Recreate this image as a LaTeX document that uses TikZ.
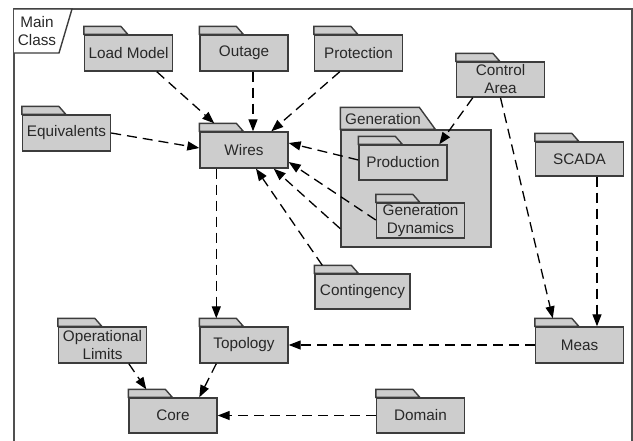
\documentclass[tikz,border=0pt]{standalone}
\usepackage{fontspec}
\setmainfont{Liberation Sans}
\usetikzlibrary{arrows.meta,calc}
\definecolor{pkgfill}{RGB}{205,205,205}
\definecolor{pkgline}{RGB}{60,60,60}
\definecolor{txt}{RGB}{40,40,40}
\tikzset{
  lblfont/.style={font=\fontsize{15.3}{18}\selectfont},
  pkg/.style={draw=pkgline, fill=pkgfill, line width=1.4pt, minimum width=88pt,
    minimum height=36pt, inner sep=0pt, text=txt, lblfont, align=center},
  tabshape/.style={draw=pkgline, fill=pkgfill, line width=1.4pt},
  dep/.style={draw=black, line width=1.3pt, dash pattern=on 10pt off 6pt,
    -{Triangle[length=12pt,width=9pt]}},
}
\newcommand{\pkgtab}[1]{\draw[tabshape] (#1.north west) -- ++(0,-8) -- ++(37,0) -- ++(7,8) -- cycle;}
\begin{document}
\begin{tikzpicture}[x=1pt,y=-1pt]
\useasboundingbox (0,0) rectangle (633,440);
% frame
\draw[draw=pkgline!90, line width=1.5pt] (14,445) -- (14,9) -- (632,9) -- (632,445);
\draw[draw=pkgline, fill=white, line width=1.4pt] (14,9) -- (72,9) -- (59,53) -- (14,53);
\node[text=txt, lblfont, align=center] (mainlbl) at (37,31) {Main\\Class};

% Generation package
\node[pkg, minimum width=150pt, minimum height=117pt] (gen) at (416,188.5) {};
\draw[tabshape] (gen.north west) -- ++(0,-22) -- ++(79,0) -- ++(16,22) -- cycle;
\node[anchor=west, text=txt, lblfont, inner sep=0pt] (genlbl) at (345,119) {Generation};

% packages
\node[pkg] (load) at (128.5,53) {Load Model}; \pkgtab{load}
\node[pkg] (outage) at (244,53) {Outage}; \pkgtab{outage}
\node[pkg] (prot) at (358.5,53) {Protection}; \pkgtab{prot}
\node[pkg, minimum height=35pt] (ctrl) at (500.5,79.5) {Control\\Area}; \pkgtab{ctrl}
\node[pkg, minimum height=35pt] (prod) at (403,162.5) {Production}; \pkgtab{prod}
\node[pkg, minimum height=35pt] (gdyn) at (420.5,220.5) {Generation\\Dynamics}; \pkgtab{gdyn}
\node[pkg, minimum height=34pt] (scada) at (579.5,159) {SCADA}; \pkgtab{scada}
\node[pkg] (equiv) at (66.5,133) {Equivalents}; \pkgtab{equiv}
\node[pkg] (wires) at (244,150) {Wires}; \pkgtab{wires}
\node[pkg, minimum width=95pt, minimum height=35pt] (cont) at (362.5,291.5) {Contingency}; \pkgtab{cont}
\node[pkg] (meas) at (579.5,345) {Meas}; \pkgtab{meas}
\node[pkg, minimum height=35pt] (domain) at (420.5,415.5) {Domain}; \pkgtab{domain}
\node[pkg] (oplim) at (102.5,345) {Operational\\Limits}; \pkgtab{oplim}
\node[pkg] (topo) at (244,345) {Topology}; \pkgtab{topo}
\node[pkg, minimum height=35pt] (core) at (173,415.5) {Core}; \pkgtab{core}

% dependencies
\draw[dep] ($(load.south west)+(73,0)$) -- ($(wires.north west)+(15,-8)$);
\draw[dep] ($(outage.south)+(9,0)$) -- ($(wires.north)+(9,0)$);
\draw[dep] ($(prot.south west)+(26,0)$) -- ($(wires.north west)+(72,0)$);
\draw[dep] (equiv.east) -- ($(wires.west)+(0,-2)$);
\draw[dep] ($(prod.west)+(0,-2.5)$) -- ($(wires.east)+(0,-7)$);
\draw[dep] ($(gdyn.west)+(0,-0.5)$) -- ($(wires.east)+(0,12)$);
\draw[dep] ($(gen.south west)+(0,-19)$) -- ($(wires.south east)+(-15,0)$);
\draw[dep] ($(cont.north west)+(8,-8)$) -- ($(wires.south)+(12,0)$);
\draw[dep] ($(ctrl.south west)+(17,0)$) -- ($(prod.north west)+(81,0)$);
\draw[dep] ($(ctrl.south)+(0,0)$) -- ($(meas.north west)+(18,-8)$);
\draw[dep] ($(scada.south)+(17.5,0)$) -- ($(meas.north)+(17.5,0)$);
\draw[dep] (meas.west) -- (topo.east);
\draw[dep] ($(wires.south west)+(17,0)$) -- ($(topo.north west)+(17,-8)$);
\draw[dep] ($(topo.south west)+(17,0)$) -- ($(core.north west)+(71,0)$);
\draw[dep] ($(oplim.south west)+(71,0)$) -- ($(core.north west)+(18,-8)$);
\draw[dep] (domain.west) -- (core.east);
\end{tikzpicture}
\end{document}
